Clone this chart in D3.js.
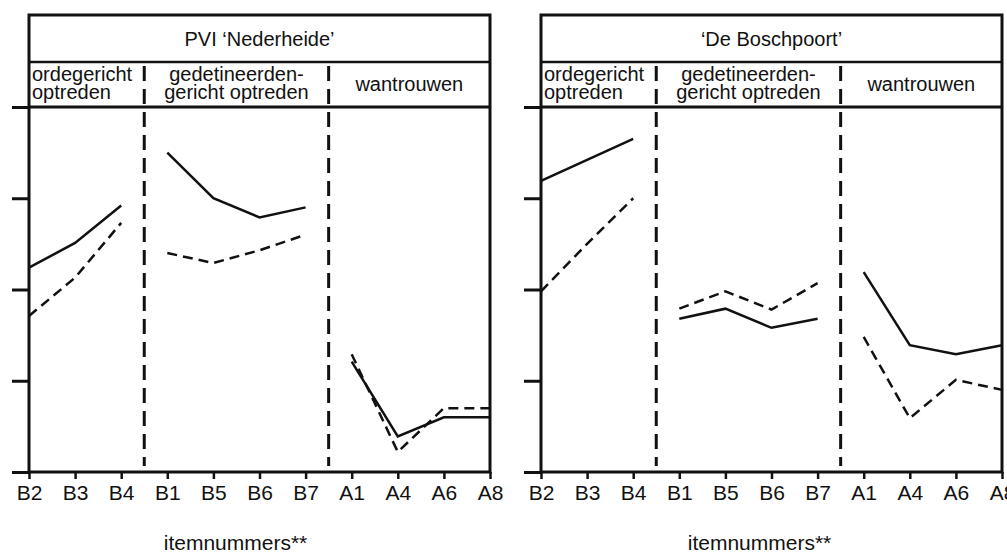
<!DOCTYPE html>
<html>
<head>
<meta charset="utf-8">
<script src="https://cdn.jsdelivr.net/npm/d3@7"></script>
<style>
  body { margin: 0; background: #fff; }
  svg { display: block; font-family: "Liberation Sans", Arial, Helvetica, sans-serif; }
</style>
</head>
<body>
<script>
// item categories on the x axis, split in three groups
var categories = ["B2", "B3", "B4", "B1", "B5", "B6", "B7", "A1", "A4", "A6", "A8"];
var groups = [
  { name: ["ordegericht", "optreden"], items: ["B2", "B3", "B4"] },
  { name: ["gedetineerden-", "gericht optreden"], items: ["B1", "B5", "B6", "B7"] },
  { name: ["wantrouwen"], items: ["A1", "A4", "A6", "A8"] }
];
var yTicks = [0, 1, 2, 3, 4];
var panelTitles = ["PVI \u2018Nederheide\u2019", "\u2018De Boschpoort\u2019"];
var axisTitle = "itemnummers**";

// values per item (solid and dashed line)
var nederheideSolid  = [2.24, 2.51, 2.92, 3.50, 3.00, 2.79, 2.90, 1.21, 0.39, 0.60, 0.60];
var nederheideDashed = [1.71, 2.13, 2.73, 2.40, 2.29, 2.43, 2.60, 1.29, 0.22, 0.70, 0.70];
var boschpoortSolid  = [3.19, 3.42, 3.65, 1.68, 1.79, 1.58, 1.68, 2.19, 1.39, 1.29, 1.39];
var boschpoortDashed = [1.98, 2.50, 3.00, 1.79, 1.98, 1.78, 2.07, 1.48, 0.59, 1.01, 0.90];

var panels = [
  { title: panelTitles[0], solid: nederheideSolid, dashed: nederheideDashed, left: 29, titleShift: -24 },
  { title: panelTitles[1], solid: boschpoortSolid, dashed: boschpoortDashed, left: 541, titleShift: -12 }
];

var width = 1007, height = 555;
var frameTop = 15, headY = 62, plotTop = 107, plotBottom = 472, panelWidth = 461;
var ink = "#111";

var svg = d3.select("body").append("svg")
  .attr("width", width)
  .attr("height", height);

svg.append("rect").attr("width", width).attr("height", height).attr("fill", "#fff");

var y = d3.scaleLinear()
  .domain([0, 4])
  .range([plotBottom, plotTop]);

panels.forEach(function(p) {
  var g = svg.append("g").attr("transform", "translate(" + p.left + ",0)");

  var x = d3.scalePoint()
    .domain(categories)
    .range([0, panelWidth]);

  // frame
  g.append("rect")
    .attr("x", 0).attr("y", frameTop)
    .attr("width", panelWidth).attr("height", plotBottom - frameTop)
    .attr("fill", "none").attr("stroke", ink).attr("stroke-width", 3);

  g.append("line")
    .attr("x1", 0).attr("x2", panelWidth)
    .attr("y1", headY).attr("y2", headY)
    .attr("stroke", ink).attr("stroke-width", 2.5);

  g.append("line")
    .attr("x1", 0).attr("x2", panelWidth)
    .attr("y1", plotTop).attr("y2", plotTop)
    .attr("stroke", ink).attr("stroke-width", 3);

  // title
  g.append("text")
    .attr("x", panelWidth / 2).attr("y", 46)
    .attr("text-anchor", "middle")
    .attr("font-size", 20)
    .attr("fill", ink)
    .text(p.title);

  // group separators
  var seps = [];
  for (var i = 1; i < groups.length; i++) {
    seps.push((x(groups[i - 1].items[groups[i - 1].items.length - 1]) + x(groups[i].items[0])) / 2);
  }
  g.selectAll(".sep")
    .data(seps)
    .enter()
    .append("line")
    .attr("class", "sep")
    .attr("x1", function(d) { return d; })
    .attr("x2", function(d) { return d; })
    .attr("y1", headY + 4)
    .attr("y2", plotBottom - 6)
    .attr("stroke", ink)
    .attr("stroke-width", 3)
    .attr("stroke-dasharray", "15,8");

  // group headers
  var bounds = [0].concat(seps).concat([panelWidth]);
  groups.forEach(function(gr, i) {
    var t = g.append("text")
      .attr("font-size", 20)
      .attr("fill", ink);
    if (i === 0) {
      t.attr("x", 3).attr("text-anchor", "start");
    } else {
      t.attr("x", (bounds[i] + bounds[i + 1]) / 2).attr("text-anchor", "middle");
    }
    if (gr.name.length === 1) {
      t.append("tspan").attr("x", t.attr("x")).attr("y", 91).text(gr.name[0]);
    } else {
      t.append("tspan").attr("x", t.attr("x")).attr("y", 81).text(gr.name[0]);
      t.append("tspan").attr("x", t.attr("x")).attr("y", 99).text(gr.name[1]);
    }
  });

  // lines per group
  var line = d3.line()
    .x(function(d) { return x(d.cat); })
    .y(function(d) { return y(d.v); });

  groups.forEach(function(gr) {
    [["solid", p.solid, null], ["dashed", p.dashed, "10,6"]].forEach(function(s) {
      var pts = gr.items.map(function(c) {
        return { cat: c, v: s[1][categories.indexOf(c)] };
      });
      g.append("path")
        .datum(pts)
        .attr("d", line)
        .attr("fill", "none")
        .attr("stroke", ink)
        .attr("stroke-width", 2.5)
        .attr("stroke-dasharray", s[2]);
    });
  });

  // y axis: ticks only
  var yAxis = d3.axisLeft(y)
    .tickValues(yTicks)
    .tickSize(17)
    .tickSizeOuter(0)
    .tickFormat("");
  var ya = g.append("g").call(yAxis);
  ya.select(".domain").remove();
  ya.selectAll("line").attr("stroke", ink).attr("stroke-width", 3);

  // x axis
  var xAxis = d3.axisBottom(x)
    .tickSize(7)
    .tickPadding(6)
    .tickSizeOuter(0);
  var xa = g.append("g")
    .attr("transform", "translate(0," + plotBottom + ")")
    .call(xAxis);
  xa.select(".domain").remove();
  xa.selectAll("line").attr("stroke", ink).attr("stroke-width", 2.5);
  xa.selectAll("text")
    .attr("font-size", 21)
    .attr("fill", ink)
    .attr("font-family", "\"Liberation Sans\", Arial, sans-serif");

  // axis title
  g.append("text")
    .attr("x", panelWidth / 2 + p.titleShift)
    .attr("y", 550)
    .attr("text-anchor", "middle")
    .attr("font-size", 21)
    .attr("fill", ink)
    .text(axisTitle);
});
</script>
</body>
</html>
